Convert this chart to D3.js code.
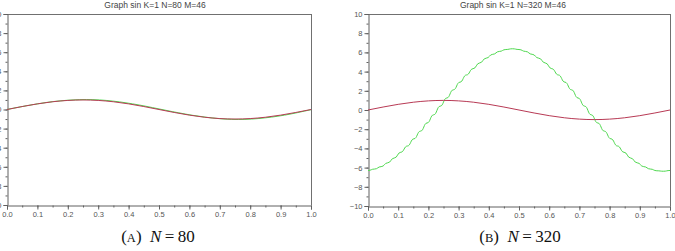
<!DOCTYPE html>
<html>
<head>
<meta charset="utf-8">
<script src="https://cdn.jsdelivr.net/npm/d3@7"></script>
<style>
body{margin:0;background:#fff;}
svg{display:block;}
</style>
</head>
<body>
<svg id="fig" width="675" height="251"></svg>
<script>
// values
var xsRed = [0,0.05,0.1,0.15,0.2,0.25,0.3,0.35,0.4,0.45,0.5,0.55,0.6,0.65,0.7,0.75,0.8,0.85,0.9,0.95,1.0];
var sinRed = [0,0.31,0.59,0.81,0.95,1.0,0.95,0.81,0.59,0.31,0,-0.31,-0.59,-0.81,-0.95,-1.0,-0.95,-0.81,-0.59,-0.31,0];

// approximation on M=46 steps
var xsGreen = [];
for (var k = 0; k <= 46; k++) xsGreen.push(k / 46);
var greenN80 = [0,0.14,0.27,0.40,0.52,0.63,0.74,0.83,0.90,0.96,1.0,1.03,1.04,1.03,1.0,0.95,0.88,0.80,0.70,0.59,0.47,0.34,0.20,
  0.06,-0.08,-0.22,-0.35,-0.48,-0.60,-0.70,-0.80,-0.88,-0.95,-1.0,-1.03,-1.04,-1.03,-1.0,-0.95,-0.88,-0.80,-0.70,-0.59,-0.46,-0.32,-0.17,-0.02];
var greenN320 = [-6.3,-6.15,-5.9,-5.5,-5.0,-4.4,-3.75,-3.0,-2.2,-1.35,-0.5,0.4,1.25,2.1,2.9,3.65,4.3,4.9,5.4,5.8,6.1,6.3,6.38,
  6.3,6.1,5.8,5.4,4.9,4.3,3.65,2.9,2.1,1.25,0.4,-0.5,-1.35,-2.2,-3.0,-3.75,-4.4,-5.0,-5.5,-5.9,-6.15,-6.33,-6.38,-6.3];

var xTicks = [0,0.1,0.2,0.3,0.4,0.5,0.6,0.7,0.8,0.9,1.0];
var yTicks = [-10,-8,-6,-4,-2,0,2,4,6,8,10];

var titles = ["Graph sin K=1 N=80 M=46", "Graph sin K=1 N=320 M=46"];
var captionTags = ["(A)", "(B)"];
var captionN = ["80", "320"];

var svg = d3.select("#fig");

var panels = [
  {x0: 7, x1: 311, y0: 14, y1: 205, titleX: 155, capX: 158, green: greenN80},
  {x0: 368, x1: 670, y0: 14, y1: 206, titleX: 513, capX: 520, green: greenN320}
];

panels.forEach(function(p, i){
  var x = d3.scaleLinear().domain([0, 1]).range([p.x0, p.x1]);
  var y = d3.scaleLinear().domain([-10, 10]).range([p.y1, p.y0]);
  var g = svg.append("g");

  // frame top + right
  g.append("line").attr("x1", p.x0).attr("y1", p.y0 + 0.5).attr("x2", p.x1).attr("y2", p.y0 + 0.5)
    .style("stroke", "#707070").style("stroke-width", 1);
  g.append("line").attr("x1", p.x1 + 0.5).attr("y1", p.y0).attr("x2", p.x1 + 0.5).attr("y2", p.y1)
    .style("stroke", "#707070").style("stroke-width", 1);

  // minor ticks
  var ax = g.append("g").attr("transform", "translate(0," + (p.y1 + 0.5) + ")")
    .call(d3.axisBottom(x).tickValues(d3.range(21).map(function(d){ return d / 20; })).tickSize(2).tickFormat(""));
  var ay = g.append("g").attr("transform", "translate(" + (p.x0 + 0.5) + ",0)")
    .call(d3.axisLeft(y).tickValues(d3.range(-10, 11)).tickSize(2).tickFormat(""));

  // major ticks
  var bx = g.append("g").attr("transform", "translate(0," + (p.y1 + 0.5) + ")")
    .call(d3.axisBottom(x).tickValues(xTicks).tickSize(4).tickPadding(2).tickFormat(d3.format(".1f")));
  var by = g.append("g").attr("transform", "translate(" + (p.x0 + 0.5) + ",0)")
    .call(d3.axisLeft(y).tickValues(yTicks).tickSize(4).tickPadding(2).tickFormat(d3.format("d")));

  [ax, ay, bx, by].forEach(function(a){
    a.selectAll("path.domain").style("stroke", "#606060");
    a.selectAll("line").style("stroke", "#606060");
    a.selectAll("text").style("font-family", "Liberation Sans, Arial, sans-serif")
      .style("font-size", "7.5px").style("fill", "#555");
  });
  ax.selectAll("path.domain").remove();
  ay.selectAll("path.domain").remove();

  var line = d3.line().x(function(d){ return x(d[0]); }).y(function(d){ return y(d[1]); });

  g.append("path")
    .datum(xsGreen.map(function(v, j){ return [v, p.green[j]]; }))
    .attr("d", line.curve(i == 0 ? d3.curveMonotoneX : d3.curveBumpX))
    .style("fill", "none").style("stroke", "#4fd84f").style("stroke-width", 1);

  g.append("path")
    .datum(xsRed.map(function(v, j){ return [v, sinRed[j]]; }))
    .attr("d", d3.line().x(function(d){ return x(d[0]); }).y(function(d){ return y(d[1]); }).curve(d3.curveNatural))
    .style("fill", "none").style("stroke", "#b83a55").style("stroke-width", 1);

  svg.append("text").attr("x", p.titleX).attr("y", 5.5).text(titles[i])
    .style("font-family", "Liberation Sans, Arial, sans-serif").style("font-size", "8.5px").style("fill", "#444")
    .attr("text-anchor", "middle").attr("dominant-baseline", "middle");

  var cap = svg.append("text").attr("x", p.capX).attr("y", 242).attr("text-anchor", "middle")
    .style("font-family", "Liberation Serif, DejaVu Serif, serif").style("font-size", "17px").style("fill", "#111");
  cap.append("tspan").text("(");
  cap.append("tspan").text(captionTags[i].slice(1, 2)).style("font-size", "12.5px");
  cap.append("tspan").text(")\u2002");
  cap.append("tspan").text("N").style("font-style", "italic");
  cap.append("tspan").text("\u2009=\u2009" + captionN[i]);
});
</script>
</body>
</html>
